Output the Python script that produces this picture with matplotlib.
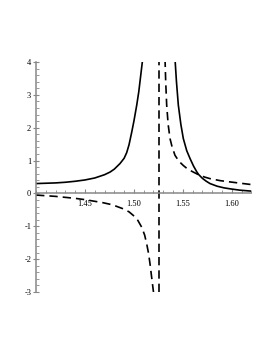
import numpy as np
import matplotlib
matplotlib.use('Agg')
from matplotlib import pyplot as plt
from matplotlib.ticker import MultipleLocator, FixedLocator

plt.rcParams['font.family'] = ['Liberation Serif', 'DejaVu Serif']
plt.rcParams['axes.unicode_minus'] = False

# solid curve, left and right branches
solid_left_x = [1.400, 1.410, 1.420, 1.430, 1.440, 1.450, 1.460, 1.465, 1.470, 1.4756, 1.480,
                1.4858, 1.490, 1.4926, 1.495, 1.4978, 1.500, 1.5029, 1.5050, 1.5062, 1.5080, 1.5090]
solid_left_y = [0.30, 0.31, 0.32, 0.34, 0.37, 0.41, 0.47, 0.52, 0.57, 0.65, 0.74,
                0.91, 1.07, 1.24, 1.48, 1.87, 2.20, 2.69, 3.10, 3.40, 3.85, 4.10]
solid_right_x = [1.5420, 1.5435, 1.5454, 1.5480, 1.5505, 1.5540, 1.5574, 1.5610, 1.5642,
                 1.5660, 1.5700, 1.5740, 1.5778, 1.5850, 1.5920, 1.5983, 1.6080, 1.6200]
solid_right_y = [4.10, 3.40, 2.69, 2.10, 1.67, 1.30, 1.06, 0.83, 0.66,
                 0.58, 0.46, 0.37, 0.30, 0.22, 0.17, 0.14, 0.10, 0.07]

# dashed curve, left and right branches
dash_left_x = [1.400, 1.410, 1.420, 1.430, 1.440, 1.450, 1.460, 1.468, 1.4756, 1.482, 1.4892,
               1.495, 1.4994, 1.504, 1.508, 1.511, 1.5131, 1.515, 1.5165, 1.518, 1.5200]
dash_left_y = [-0.05, -0.07, -0.09, -0.12, -0.15, -0.19, -0.24, -0.28, -0.33, -0.39, -0.47,
               -0.56, -0.67, -0.82, -1.03, -1.27, -1.54, -1.83, -2.15, -2.52, -3.00]
dash_right_x = [1.5318, 1.5325, 1.5335, 1.5350, 1.5369, 1.5390, 1.5420, 1.5460, 1.5505,
                1.5550, 1.5607, 1.5660, 1.5720, 1.5778, 1.5880, 1.5983, 1.6090, 1.6200]
dash_right_y = [4.10, 3.40, 2.69, 2.10, 1.67, 1.42, 1.16, 0.98, 0.85,
                0.74, 0.65, 0.57, 0.50, 0.45, 0.39, 0.35, 0.31, 0.27]

# vertical asymptote
asym_x = [1.526, 1.526]
asym_y = [-3.0, 4.1]

xticks = [1.45, 1.50, 1.55, 1.60]
xticklabels = ['1.45', '1.50', '1.55', '1.60']
yticks = [-3, -2, -1, 0, 1, 2, 3, 4]

fig = plt.figure(figsize=(2.73, 3.53), dpi=100)
ax = fig.add_axes([0.1322, 0.1728, 0.7883, 0.6516])

lw = 1.2
ax.plot(solid_left_x, solid_left_y, color='black', lw=lw)
ax.plot(solid_right_x, solid_right_y, color='black', lw=lw)
ax.plot(dash_left_x, dash_left_y, color='black', lw=lw, dashes=(5, 3))
ax.plot(dash_right_x, dash_right_y, color='black', lw=lw, dashes=(5, 3))
ax.plot(asym_x, asym_y, color='black', lw=lw, dashes=(5, 3))

ax.set_xlim(1.40, 1.62)
ax.set_ylim(-3.0, 4.0)

for side in ['top', 'right']:
    ax.spines[side].set_visible(False)
ax.spines['bottom'].set_position(('data', 0))
ax.spines['bottom'].set_color('#888888')
ax.spines['left'].set_color('#888888')
ax.spines['bottom'].set_linewidth(1.1)
ax.spines['left'].set_linewidth(1.1)

ax.xaxis.set_major_locator(FixedLocator(xticks))
ax.set_xticklabels(xticklabels)
ax.xaxis.set_minor_locator(MultipleLocator(0.01))
ax.yaxis.set_major_locator(FixedLocator(yticks))
ax.set_yticklabels([str(t) for t in yticks])
ax.yaxis.set_minor_locator(MultipleLocator(0.2))

ax.tick_params(which='major', direction='in', length=3, width=0.8, color='#888888',
               labelsize=6, pad=4.5)
ax.tick_params(which='minor', direction='in', length=2, width=0.6, color='#888888')
ax.tick_params(axis='y', which='major', direction='inout', length=4, pad=1.5)

fig.savefig('out.png', dpi=100)
